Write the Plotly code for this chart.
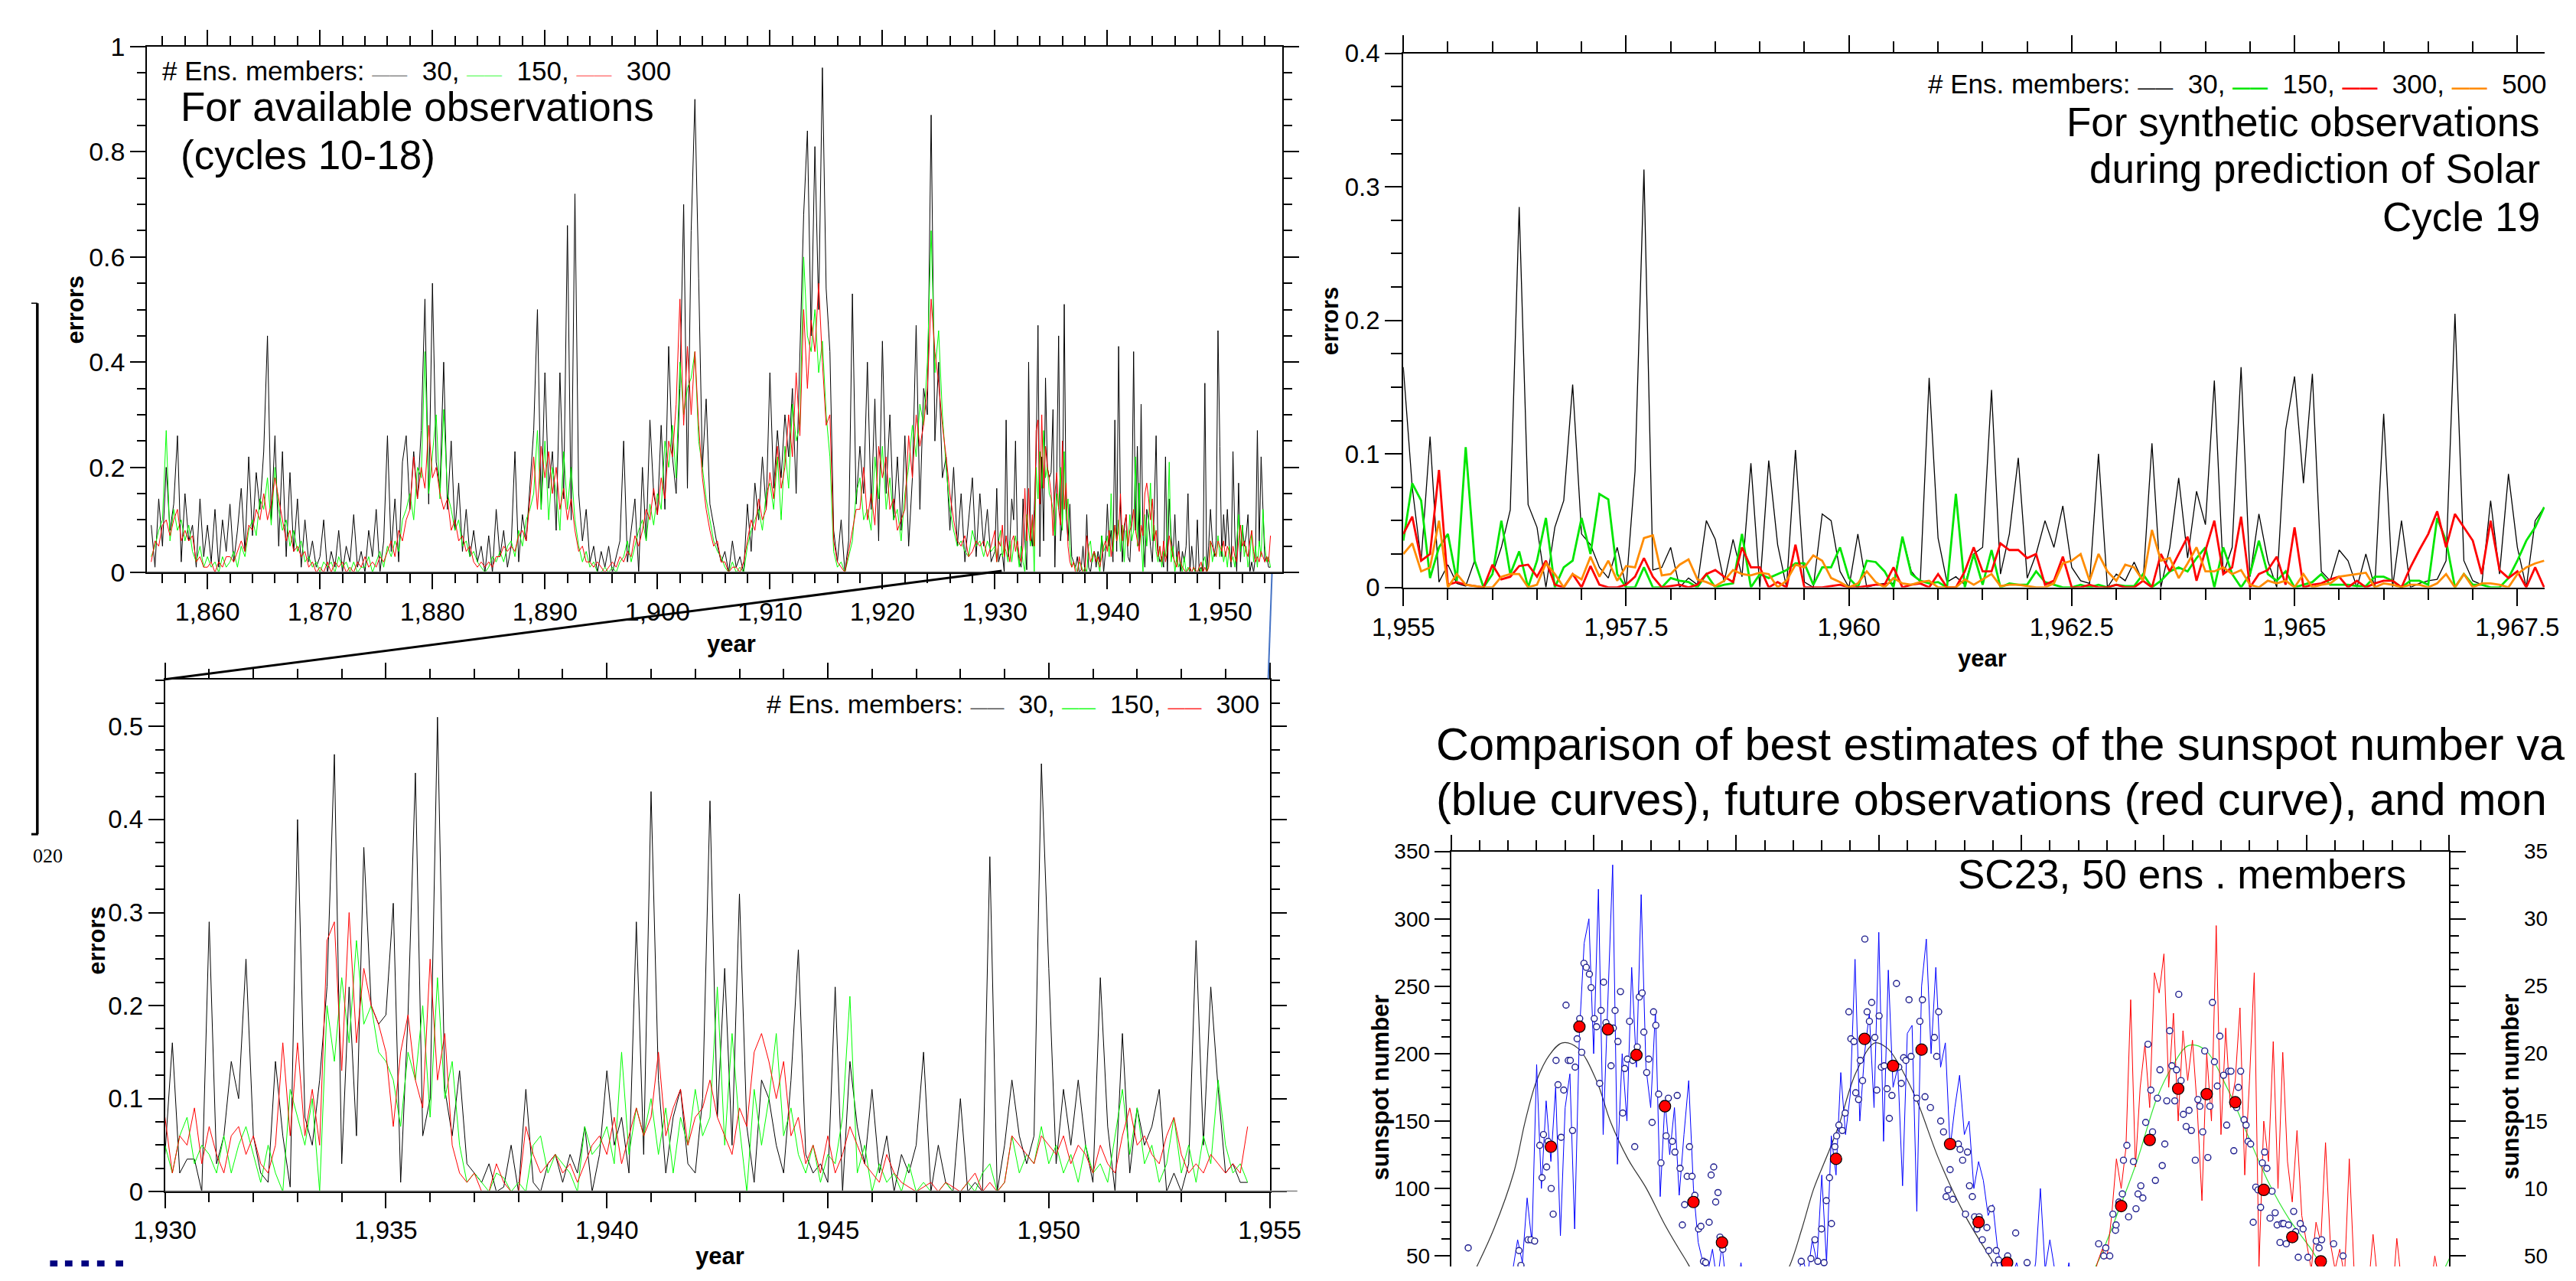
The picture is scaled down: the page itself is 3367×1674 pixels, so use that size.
import plotly.graph_objects as go

W, H = 3367, 1674
FONT = "Liberation Sans, Arial, Helvetica, sans-serif"
NB = "\u00a0"

# ---------------- Panel A (top-left): errors 1855-1929.67, every 1/3 year ----------------
a_start, a_step = 1855.0, 1.0 / 3.0
a_black_early = [
    0.09, 0.01, 0.14, 0.05, 0.20, 0.08, 0.13, 0.26, 0.02, 0.15, 0.06, 0.09,  # 1855-58
    0.01, 0.14, 0.03, 0.09, 0.02, 0.12, 0.01, 0.10, 0.04, 0.13, 0.02, 0.08,  # 1859-62
    0.16, 0.04, 0.22, 0.07, 0.19, 0.12, 0.23, 0.45, 0.10, 0.26, 0.05, 0.23,  # 1863-66
    0.03, 0.19, 0.04, 0.14, 0.01, 0.10, 0.02, 0.06, 0.01, 0.03, 0.10, 0.00,  # 1867-70
    0.04, 0.01, 0.08, 0.00, 0.05, 0.02, 0.11, 0.01, 0.04, 0.00, 0.08, 0.03,  # 1871-74
    0.12, 0.00, 0.06, 0.26, 0.04, 0.14, 0.02, 0.21, 0.26, 0.12, 0.23, 0.14,  # 1875-78
    0.27, 0.52, 0.13, 0.55, 0.21, 0.16, 0.40, 0.12, 0.25, 0.08, 0.17, 0.04,  # 1879-82
    0.12, 0.03, 0.08, 0.02, 0.05, 0.00, 0.07, 0.00, 0.12, 0.03, 0.08, 0.01,  # 1883-86
    0.05, 0.23, 0.02, 0.11, 0.06, 0.17, 0.27, 0.50, 0.12, 0.38, 0.16, 0.23,  # 1887-90
    0.08, 0.38, 0.14, 0.66, 0.10, 0.72, 0.15, 0.06, 0.12, 0.02, 0.05, 0.00,  # 1891-94
    0.04, 0.01, 0.05, 0.00, 0.03, 0.06, 0.25, 0.02, 0.08, 0.14, 0.00, 0.20,  # 1895-98
    0.06, 0.29, 0.15, 0.11, 0.28, 0.12, 0.43, 0.22, 0.15, 0.35, 0.70, 0.16,  # 1899-1902
    0.65, 0.90, 0.56, 0.20, 0.33, 0.13, 0.09, 0.05, 0.02, 0.04, 0.00, 0.06,  # 1903-06
    0.01, 0.03, 0.00, 0.13, 0.04, 0.17, 0.10, 0.22, 0.12, 0.38, 0.16, 0.27,  # 1907-10
    0.18, 0.30, 0.22, 0.35, 0.15, 0.40, 0.68, 0.84, 0.45, 0.81, 0.50, 0.96,  # 1911-14
    0.54, 0.42, 0.08, 0.02, 0.10, 0.00, 0.06, 0.53, 0.13, 0.24, 0.15, 0.40,  # 1915-18
    0.12, 0.33, 0.06, 0.44, 0.15, 0.30, 0.10, 0.22, 0.08, 0.26, 0.05, 0.18,  # 1919-22
    0.47, 0.12, 0.35, 0.30, 0.87, 0.25, 0.40, 0.18, 0.22, 0.08, 0.20, 0.05,  # 1923-26
    0.15, 0.02, 0.10, 0.18, 0.03, 0.15, 0.05, 0.12, 0.02,                    # 1927-29
]
a_green_early = [
    0.03, 0.05, 0.08, 0.10, 0.27, 0.06, 0.12, 0.08, 0.10, 0.06, 0.09, 0.04,
    0.02, 0.05, 0.01, 0.03, 0.01, 0.02, 0.00, 0.03, 0.01, 0.02, 0.04, 0.01,
    0.05, 0.03, 0.08, 0.10, 0.07, 0.14, 0.12, 0.18, 0.09, 0.20, 0.12, 0.08,
    0.10, 0.05, 0.08, 0.04, 0.06, 0.02, 0.03, 0.01, 0.02, 0.00, 0.02, 0.01,
    0.02, 0.00, 0.03, 0.01, 0.02, 0.00, 0.02, 0.00, 0.01, 0.01, 0.03, 0.00,
    0.02, 0.04, 0.01, 0.05, 0.03, 0.06, 0.04, 0.10, 0.12, 0.15, 0.10, 0.20,
    0.18, 0.42, 0.15, 0.22, 0.30, 0.14, 0.31, 0.15, 0.12, 0.08, 0.10, 0.05,
    0.06, 0.03, 0.04, 0.02, 0.01, 0.00, 0.01, 0.03, 0.02, 0.04, 0.02, 0.05,
    0.06, 0.03, 0.08, 0.05, 0.10, 0.12, 0.15, 0.27, 0.12, 0.25, 0.10, 0.20,
    0.15, 0.08, 0.23, 0.12, 0.20, 0.10, 0.05, 0.02, 0.04, 0.01, 0.02, 0.00,
    0.00, 0.01, 0.00, 0.01, 0.00, 0.02, 0.03, 0.06, 0.02, 0.05, 0.08, 0.10,
    0.06, 0.13, 0.09, 0.15, 0.12, 0.25, 0.20, 0.28, 0.18, 0.40, 0.30, 0.35,
    0.37, 0.42, 0.25, 0.20, 0.14, 0.10, 0.06, 0.04, 0.03, 0.01, 0.00, 0.02,
    0.00, 0.01, 0.00, 0.05, 0.08, 0.10, 0.12, 0.08, 0.15, 0.17, 0.12, 0.22,
    0.10, 0.24, 0.16, 0.32, 0.25, 0.28, 0.60, 0.45, 0.42, 0.50, 0.38, 0.44,
    0.30, 0.22, 0.04, 0.01, 0.02, 0.00, 0.03, 0.06, 0.15, 0.18, 0.10, 0.12,
    0.08, 0.22, 0.14, 0.24, 0.12, 0.18, 0.10, 0.12, 0.06, 0.15, 0.20, 0.28,
    0.22, 0.32, 0.28, 0.40, 0.65, 0.38, 0.46, 0.30, 0.20, 0.12, 0.08, 0.05,
    0.06, 0.04, 0.03, 0.08, 0.05, 0.06, 0.03, 0.06, 0.04,
]
a_red_early = [
    0.02, 0.06, 0.05, 0.09, 0.10, 0.07, 0.10, 0.12, 0.06, 0.08, 0.06, 0.07,
    0.02, 0.03, 0.01, 0.01, 0.02, 0.00, 0.02, 0.01, 0.03, 0.03, 0.02, 0.04,
    0.06, 0.04, 0.09, 0.08, 0.12, 0.10, 0.15, 0.10, 0.13, 0.18, 0.14, 0.10,
    0.06, 0.08, 0.04, 0.05, 0.03, 0.04, 0.01, 0.02, 0.00, 0.01, 0.00, 0.02,
    0.00, 0.02, 0.01, 0.02, 0.00, 0.01, 0.00, 0.02, 0.01, 0.03, 0.01, 0.02,
    0.01, 0.03, 0.02, 0.04, 0.06, 0.03, 0.08, 0.06, 0.10, 0.12, 0.22, 0.14,
    0.20, 0.16, 0.28, 0.18, 0.20, 0.15, 0.12, 0.14, 0.08, 0.10, 0.06, 0.07,
    0.04, 0.05, 0.02, 0.01, 0.02, 0.01, 0.02, 0.01, 0.03, 0.03, 0.05, 0.04,
    0.05, 0.04, 0.07, 0.08, 0.06, 0.14, 0.22, 0.12, 0.24, 0.18, 0.23, 0.15,
    0.20, 0.12, 0.16, 0.10, 0.14, 0.08, 0.04, 0.05, 0.02, 0.02, 0.01, 0.02,
    0.01, 0.00, 0.01, 0.02, 0.01, 0.03, 0.02, 0.04, 0.03, 0.07, 0.05, 0.08,
    0.12, 0.10, 0.16, 0.11, 0.18, 0.14, 0.25, 0.22, 0.32, 0.52, 0.28, 0.43,
    0.30, 0.42, 0.28, 0.18, 0.12, 0.08, 0.05, 0.06, 0.02, 0.02, 0.00, 0.01,
    0.01, 0.00, 0.02, 0.06, 0.10, 0.08, 0.14, 0.10, 0.12, 0.19, 0.14, 0.24,
    0.16, 0.20, 0.30, 0.22, 0.38, 0.26, 0.50, 0.35, 0.48, 0.42, 0.55, 0.40,
    0.28, 0.30, 0.06, 0.02, 0.01, 0.00, 0.04, 0.08, 0.12, 0.12, 0.20, 0.10,
    0.15, 0.09, 0.24, 0.18, 0.22, 0.12, 0.14, 0.08, 0.10, 0.12, 0.26, 0.18,
    0.30, 0.24, 0.28, 0.35, 0.52, 0.42, 0.36, 0.28, 0.22, 0.15, 0.10, 0.06,
    0.05, 0.07, 0.03, 0.04, 0.06, 0.05, 0.06, 0.03, 0.05,
]

# ---------------- Panel B (bottom-left): errors 1930-1954.5, every 1/6 year ----------------
b_start, b_step = 1930.0, 1.0 / 6.0
b_black = [
    0.04, 0.16, 0.02, 0.035, 0.035, 0.00,   # 1930
    0.29, 0.03, 0.06, 0.14, 0.10, 0.25,     # 1931
    0.06, 0.02, 0.01, 0.14, 0.06, 0.005,    # 1932
    0.40, 0.08, 0.05, 0.12, 0.22, 0.47,     # 1933
    0.03, 0.22, 0.06, 0.37, 0.20, 0.18,     # 1934
    0.19, 0.31, 0.01, 0.19, 0.45, 0.06,     # 1935
    0.10, 0.51, 0.11, 0.06, 0.13, 0.03,     # 1936
    0.02, 0.01, 0.03, 0.00, 0.005, 0.05,    # 1937
    0.00, 0.11, 0.01, 0.00, 0.03, 0.04,     # 1938
    0.01, 0.04, 0.02, 0.07, 0.00, 0.04,     # 1939
    0.13, 0.05, 0.08, 0.02, 0.29, 0.04,     # 1940
    0.43, 0.12, 0.02, 0.08, 0.11, 0.03,     # 1941
    0.02, 0.10, 0.42, 0.08, 0.24, 0.05,     # 1942
    0.32, 0.07, 0.01, 0.12, 0.10, 0.05,     # 1943
    0.02, 0.12, 0.26, 0.04, 0.02, 0.03,     # 1944
    0.01, 0.22, 0.00, 0.14, 0.07, 0.03,     # 1945
    0.11, 0.02, 0.06, 0.00, 0.04, 0.02,     # 1946
    0.05, 0.15, 0.00, 0.05, 0.01, 0.00,     # 1947
    0.10, 0.00, 0.01, 0.00, 0.36, 0.00,     # 1948
    0.05, 0.12, 0.06, 0.03, 0.06, 0.46,     # 1949
    0.24, 0.03, 0.11, 0.05, 0.12, 0.05,     # 1950
    0.01, 0.23, 0.07, 0.00, 0.17, 0.02,     # 1951
    0.09, 0.05, 0.07, 0.11, 0.00, 0.02,     # 1952
    0.00, 0.03, 0.27, 0.05, 0.22, 0.11,     # 1953
    0.02, 0.03, 0.01, 0.01,                 # 1954
]
b_green = [
    0.05, 0.02, 0.06, 0.08, 0.03, 0.05,
    0.04, 0.02, 0.06, 0.02, 0.05, 0.07,
    0.04, 0.01, 0.05, 0.02, 0.00, 0.11,
    0.08, 0.05, 0.10, 0.00, 0.20, 0.14,
    0.23, 0.16, 0.27, 0.18, 0.20, 0.15,
    0.14, 0.12, 0.07, 0.15, 0.12, 0.20,
    0.08, 0.23, 0.10, 0.14, 0.05, 0.01,
    0.02, 0.01, 0.00, 0.02, 0.015, 0.00,
    0.01, 0.00, 0.05, 0.06, 0.02, 0.04,
    0.03, 0.02, 0.00, 0.07, 0.04, 0.05,
    0.07, 0.03, 0.15, 0.04, 0.09, 0.06,
    0.10, 0.04, 0.09, 0.02, 0.08, 0.05,
    0.11, 0.06, 0.08, 0.22, 0.05, 0.17,
    0.07, 0.00, 0.11, 0.05, 0.10, 0.17,
    0.06, 0.09, 0.04, 0.02, 0.05, 0.01,
    0.04, 0.03, 0.08, 0.21, 0.02, 0.05,
    0.00, 0.03, 0.01, 0.02, 0.00, 0.03,
    0.00, 0.01, 0.00, 0.00, 0.01, 0.00,
    0.00, 0.01, 0.00, 0.02, 0.03, 0.00,
    0.01, 0.06, 0.02, 0.04, 0.03, 0.07,
    0.03, 0.05, 0.02, 0.04, 0.01, 0.05,
    0.02, 0.03, 0.01, 0.06, 0.11, 0.04,
    0.09, 0.03, 0.05, 0.01, 0.03, 0.08,
    0.02, 0.05, 0.01, 0.06, 0.03, 0.12,
    0.05, 0.02, 0.03, 0.01,
]
b_red = [
    0.08, 0.02, 0.06, 0.05, 0.09, 0.03,
    0.07, 0.04, 0.02, 0.06, 0.07, 0.04,
    0.06, 0.03, 0.02, 0.05, 0.16, 0.06,
    0.16, 0.06, 0.11, 0.05, 0.27, 0.29,
    0.13, 0.30, 0.16, 0.24, 0.20, 0.18,
    0.15, 0.07, 0.15, 0.19, 0.12, 0.09,
    0.25, 0.12, 0.17, 0.05, 0.02, 0.01,
    0.02, 0.00, 0.00, 0.03, 0.01, 0.00,
    0.00, 0.07, 0.04, 0.02, 0.03, 0.04,
    0.02, 0.03, 0.01, 0.03, 0.05, 0.06,
    0.04, 0.08, 0.03, 0.06, 0.09, 0.06,
    0.08, 0.15, 0.06, 0.09, 0.11, 0.05,
    0.08, 0.09, 0.12, 0.08, 0.06, 0.04,
    0.09, 0.07, 0.15, 0.17, 0.14, 0.10,
    0.14, 0.06, 0.08, 0.03, 0.05, 0.02,
    0.06, 0.02, 0.04, 0.07, 0.05, 0.03,
    0.02, 0.01, 0.04, 0.02, 0.01, 0.005,
    0.00, 0.005, 0.01, 0.00, 0.01, 0.005,
    0.00, 0.01, 0.02, 0.00, 0.01, 0.00,
    0.01, 0.06, 0.05, 0.04, 0.03, 0.06,
    0.05, 0.04, 0.06, 0.03, 0.05, 0.04,
    0.02, 0.05, 0.03, 0.02, 0.06, 0.09,
    0.05, 0.06, 0.04, 0.03, 0.06, 0.08,
    0.04, 0.02, 0.03, 0.02, 0.04, 0.03,
    0.02, 0.03, 0.02, 0.07,
]

# ---------------- Panel C (top-right): synthetic obs errors 1955-1967.8, every 0.1 year ----------------
c_start, c_step = 1955.0, 0.1
c_black = [
    0.165, 0.075, 0.02, 0.113, 0.004, 0.017, 0.003, 0.001, 0.02, 0.0,
    0.01, 0.03, 0.058, 0.285, 0.062, 0.045, 0.0, 0.045, 0.065, 0.152,
    0.04, 0.032, 0.015, 0.007, 0.03, 0.0, 0.087, 0.313, 0.013, 0.015,
    0.03, 0.0, 0.007, 0.002, 0.05, 0.036, 0.004, 0.036, 0.008, 0.093,
    0.0, 0.095, 0.032, 0.0, 0.103, 0.004, 0.0, 0.055, 0.05, 0.012,
    0.0, 0.04, 0.0, 0.002, 0.003, 0.003, 0.038, 0.012, 0.004, 0.157,
    0.037, 0.004, 0.008, 0.002, 0.025, 0.03, 0.148, 0.01, 0.04, 0.097,
    0.007, 0.025, 0.05, 0.03, 0.061, 0.015, 0.005, 0.003, 0.1, 0.0,
    0.01, 0.005, 0.019, 0.004, 0.108, 0.0, 0.03, 0.082, 0.022, 0.072,
    0.047, 0.155, 0.01, 0.03, 0.165, 0.008, 0.055, 0.02, 0.0, 0.118,
    0.158, 0.078, 0.16, 0.012, 0.005, 0.028, 0.02, 0.0, 0.025, 0.0,
    0.13, 0.0, 0.05, 0.0, 0.003, 0.005, 0.006, 0.02, 0.205, 0.02,
    0.005, 0.002, 0.065, 0.01, 0.085, 0.03, 0.0, 0.05, 0.06,
]
c_green = [
    0.035, 0.078, 0.065, 0.007, 0.03, 0.04, 0.005, 0.105, 0.02, 0.0,
    0.01, 0.05, 0.01, 0.027, 0.0, 0.02, 0.052, 0.0, 0.015, 0.02,
    0.052, 0.025, 0.07, 0.066, 0.01, 0.0, 0.0, 0.015, 0.0, 0.0,
    0.007, 0.005, 0.004, 0.0, 0.01, 0.0, 0.002, 0.003, 0.04, 0.0,
    0.01, 0.007, 0.01, 0.013, 0.018, 0.018, 0.002, 0.015, 0.015, 0.03,
    0.007, 0.0, 0.02, 0.019, 0.012, 0.0, 0.038, 0.01, 0.005, 0.003,
    0.004, 0.0, 0.07, 0.0, 0.025, 0.002, 0.028, 0.0, 0.003, 0.002,
    0.002, 0.012, 0.004, 0.002, 0.0, 0.0, 0.002, 0.0, 0.002, 0.0,
    0.002, 0.001, 0.001, 0.01, 0.0, 0.005, 0.012, 0.015, 0.012, 0.022,
    0.03, 0.0, 0.03, 0.01, 0.0, 0.01, 0.035, 0.01, 0.005, 0.012,
    0.0, 0.002, 0.004, 0.01, 0.002, 0.002, 0.002, 0.001, 0.001, 0.008,
    0.008, 0.005, 0.0, 0.005, 0.005, 0.002, 0.052, 0.035, 0.0, 0.01,
    0.002, 0.002, 0.0, 0.0, 0.007, 0.02, 0.035, 0.045, 0.06,
]
c_red = [
    0.04, 0.053, 0.02, 0.025, 0.088, 0.002, 0.004, 0.002, 0.001, 0.0,
    0.017, 0.006, 0.008, 0.016, 0.017, 0.008, 0.02, 0.002, 0.0, 0.01,
    0.0, 0.016, 0.002, 0.0, 0.0, 0.002, 0.008, 0.022, 0.008, 0.0,
    0.001, 0.002, 0.0, 0.002, 0.01, 0.013, 0.008, 0.004, 0.03, 0.015,
    0.015, 0.0, 0.004, 0.0, 0.032, 0.0, 0.0, 0.0, 0.001, 0.002,
    0.0, 0.0, 0.001, 0.002, 0.002, 0.015, 0.0, 0.002, 0.003, 0.0,
    0.01, 0.0, 0.0, 0.012, 0.03, 0.012, 0.012, 0.033, 0.028, 0.028,
    0.022, 0.025, 0.002, 0.005, 0.023, 0.0, 0.0, 0.002, 0.0, 0.0,
    0.002, 0.0, 0.0, 0.005, 0.0, 0.025, 0.012, 0.025, 0.038, 0.005,
    0.028, 0.05, 0.01, 0.015, 0.053, 0.0, 0.01, 0.013, 0.023, 0.002,
    0.045, 0.0, 0.002, 0.003, 0.006, 0.008, 0.0, 0.005, 0.0, 0.003,
    0.005, 0.005, 0.0, 0.015, 0.028, 0.04, 0.057, 0.03, 0.055, 0.045,
    0.035, 0.01, 0.05, 0.013, 0.007, 0.012, 0.0, 0.015, 0.0,
]
c_orange = [
    0.025, 0.033, 0.012, 0.015, 0.05, 0.0, 0.01, 0.002, 0.001, 0.0,
    0.0, 0.008, 0.01, 0.01, 0.0, 0.002, 0.018, 0.01, 0.0, 0.01,
    0.006, 0.023, 0.008, 0.02, 0.005, 0.016, 0.015, 0.037, 0.039, 0.009,
    0.01, 0.017, 0.021, 0.006, 0.004, 0.001, 0.005, 0.013, 0.01, 0.009,
    0.011, 0.01, 0.0, 0.005, 0.017, 0.015, 0.024, 0.02, 0.007, 0.004,
    0.0, 0.003, 0.012, 0.004, 0.0, 0.007, 0.003, 0.002, 0.004, 0.005,
    0.0, 0.0, 0.0, 0.006, 0.002, 0.006, 0.01, 0.001, 0.002, 0.002,
    0.001, 0.0, 0.0, 0.003, 0.018, 0.02, 0.025, 0.005, 0.025, 0.012,
    0.005, 0.017, 0.015, 0.005, 0.043, 0.02, 0.022, 0.007, 0.018, 0.03,
    0.012, 0.012, 0.015, 0.01, 0.013, 0.002, 0.0, 0.005, 0.003, 0.005,
    0.0, 0.01, 0.0, 0.002, 0.003, 0.008, 0.009, 0.01, 0.011, 0.0,
    0.003, 0.002, 0.0, 0.002, 0.002, 0.0, 0.003, 0.01, 0.0, 0.01,
    0.0, 0.003, 0.003, 0.002, 0.0, 0.01, 0.015, 0.018, 0.02,
]

# ---------------- Panel D (bottom-right): sunspot numbers ----------------
d_blue_start, d_step = 1976.0, 1.0 / 6.0
d_blue = [
    18, 25, 15, 30, 22, 35,  28, 40, 62, 45, 93, 60,
    192, 100, 165, 120, 175, 65,  160, 185, 70, 215, 282, 300,
    200, 322, 140, 240, 340, 118,  200, 150, 264, 190, 318, 190,
    160, 232, 94, 165, 125, 160,  95, 140, 180, 100, 60, 45,
    38, 55, 30, 58, 25, 32,  20, 45, 15, 20, 10, 15,
    12, 20, 18, 25, 30, 28,  30, 38, 48, 35, 62, 45,
    110, 45, 139, 110, 186, 140,  170, 270, 150, 200, 230, 160,
    290, 135, 262, 175, 190, 102,  215, 221, 83, 250, 285, 200,
    264, 190, 208, 130, 160, 184,  140, 150, 100, 120, 106, 80,
    88, 55, 40, 48, 35, 45,  30, 38, 25, 45, 100, 40,
    62, 40, 30, 25, 45, 20,
]
d_red_start = 1997.0
d_red = [
    20, 28, 35, 30, 45, 55,  48, 80, 122, 100, 130, 240,
    116, 175, 207, 160, 260, 245,  274, 175, 230, 150, 217, 180,
    210, 160, 91, 200, 150, 295,  140, 219, 160, 180, 234, 110,
    180, 260, 42, 150, 120, 209,  100, 201, 120, 90, 143, 80,
    60, 40, 75, 60, 134, 60,  40, 55, 35, 122, 40, 30,
    38, 25, 66, 30, 20, 28,  15, 63, 30, 12, 20, 15,
    10, 18, 22, 50, 30, 20,
]
obs_t = [
    1975.6, 1977.38, 1977.45, 1977.7, 1977.8, 1977.93, 1978.11, 1978.19, 1978.24, 1978.35,
    1978.4, 1978.51, 1978.58, 1978.68, 1978.75, 1978.86, 1978.95, 1979.03, 1979.11, 1979.18,
    1979.26, 1979.35, 1979.42, 1979.51, 1979.58, 1979.66, 1979.74, 1979.85, 1979.91, 1980.02,
    1980.1, 1980.21, 1980.26, 1980.35, 1980.43, 1980.51, 1980.61, 1980.69, 1980.75, 1980.85,
    1980.94, 1981.02, 1981.09, 1981.18, 1981.26, 1981.37, 1981.44, 1981.53, 1981.6, 1981.7,
    1981.76, 1981.86, 1981.93, 1982.05, 1982.1, 1982.18, 1982.28, 1982.36, 1982.46, 1982.54,
    1982.62, 1982.76, 1982.85, 1982.93, 1983.03, 1983.11, 1983.19, 1983.28, 1983.36, 1983.45,
    1983.55, 1983.68, 1983.76, 1983.85, 1983.93, 1984.05, 1984.12, 1984.21, 1984.28, 1984.36,
    1984.43, 1984.53, 1985.0, 1985.5, 1986.0, 1986.5,
    1987.28, 1987.62, 1987.76, 1987.86, 1987.99, 1988.08, 1988.16, 1988.27, 1988.34, 1988.46,
    1988.52, 1988.6, 1988.72, 1988.82, 1988.95, 1989.02, 1989.13, 1989.19, 1989.29, 1989.35,
    1989.43, 1989.51, 1989.59, 1989.67, 1989.75, 1989.86, 1989.93, 1990.01, 1990.09, 1990.19,
    1990.29, 1990.37, 1990.46, 1990.62, 1990.7, 1990.79, 1990.87, 1990.95, 1991.06, 1991.13,
    1991.33, 1991.44, 1991.53, 1991.62, 1991.81, 1991.95, 1992.03, 1992.1, 1992.17, 1992.27,
    1992.36, 1992.43, 1992.5, 1992.6, 1992.79, 1992.85, 1992.94, 1993.04, 1993.11, 1993.18,
    1993.28, 1993.36, 1993.44, 1993.52, 1993.63, 1993.79, 1993.86, 1993.95, 1994.05, 1994.12,
    1994.2, 1994.52, 1994.8, 1995.2,
    1997.71, 1997.89, 1997.96, 1998.1, 1998.21, 1998.3, 1998.32, 1998.42, 1998.54, 1998.58,
    1998.7, 1998.76, 1998.93, 1999.02, 1999.09, 1999.19, 1999.26, 1999.36, 1999.44, 1999.54,
    1999.6, 1999.7, 1999.77, 1999.86, 1999.94, 2000.03, 2000.1, 2000.2, 2000.28, 2000.38,
    2000.44, 2000.52, 2000.6, 2000.68, 2000.78, 2000.88, 2000.96, 2001.1, 2001.19, 2001.26,
    2001.36, 2001.43, 2001.54, 2001.61, 2001.7, 2001.77, 2001.87, 2001.96, 2002.09, 2002.2,
    2002.27, 2002.35, 2002.45, 2002.55, 2002.61, 2002.69, 2002.81, 2002.88, 2002.95, 2003.04,
    2003.13, 2003.22, 2003.3, 2003.39, 2003.45, 2003.53, 2003.61, 2003.72, 2003.79, 2003.9,
    2003.97, 2004.07, 2004.14, 2004.2, 2004.29, 2004.37, 2004.43, 2004.55, 2004.62, 2004.71,
    2004.78, 2004.88, 2005.05, 2005.34, 2005.44, 2005.53, 2005.95, 2006.28,
]
obs_v = [
    56, 54, 43, 62, 62, 61, 132, 108, 140, 116,
    135, 100, 81, 195, 177, 138, 173, 236, 195, 195,
    143, 190, 211, 226, 201, 267, 264, 259, 249, 226,
    220, 178, 232, 253, 223, 217, 191, 219, 232, 209,
    246, 156, 189, 196, 224, 195, 131, 205, 242, 245,
    216, 186, 196, 149, 231, 221, 170, 119, 163, 139,
    167, 135, 127, 169, 115, 73, 88, 109, 131, 109,
    95, 70, 72, 46, 45, 75, 110, 116, 90, 97,
    64, 55, 30, 20, 15, 22,
    46, 48, 62, 46, 70, 45, 91, 108, 74, 131,
    139, 147, 143, 156, 231, 211, 209, 171, 166, 195,
    180, 285, 231, 224, 238, 212, 173, 228, 190, 191,
    174, 152, 169, 252, 190, 178, 197, 195, 240, 198,
    167, 224, 240, 168, 160, 212, 198, 231, 150, 142,
    94, 99, 114, 92, 133, 129, 121, 81, 127, 102,
    94, 79, 70, 79, 62, 71, 54, 85, 43, 54,
    47, 50, 67, 45,
    59, 50, 56, 50, 81, 69, 73, 90, 96, 121,
    132, 79, 120, 85, 96, 102, 93, 149, 207, 173,
    142, 106, 167, 188, 117, 133, 165, 217, 191, 165,
    188, 244, 180, 155, 146, 158, 143, 121, 166, 161,
    142, 202, 123, 161, 238, 194, 176, 213, 184, 147,
    187, 187, 128, 160, 175, 187, 151, 147, 135, 133,
    75, 101, 99, 86, 119, 127, 115, 78, 98, 82,
    73, 60, 74, 74, 59, 73, 64, 83, 68, 49,
    74, 70, 49, 61, 56, 62, 59, 50,
]
annual_t = [1976.5, 1977.5, 1978.5, 1979.5, 1980.5, 1981.5, 1982.5, 1983.5, 1984.5, 1985.5,
            1986.5, 1987.5, 1988.5, 1989.5, 1990.5, 1991.5, 1992.5, 1993.5, 1994.5, 1995.5,
            1996.5, 1997.5, 1998.5, 1999.5, 2000.5, 2001.5, 2002.5, 2003.5, 2004.5, 2005.5,
            2006.5, 2007.5, 2008.5]
annual_v = [13, 28, 131, 220, 218, 199, 161, 90, 60, 25,
            19, 34, 122, 211, 191, 203, 133, 75, 45, 25,
            12, 30, 87, 136, 174, 170, 164, 99, 64, 46,
            25, 12, 4]
fit_t = [1975.5, 1975.9, 1976.5, 1977.2, 1977.6, 1978.0, 1978.45, 1978.9, 1979.45, 1980.1,
         1980.6, 1981.2, 1981.85, 1982.5, 1983.2, 1983.6, 1984.5, 1985.5, 1986.4, 1986.86,
         1987.3, 1987.72, 1988.2, 1988.6, 1989.2, 1989.86, 1990.3, 1990.65, 1991.3, 1992.1,
         1993.0, 1993.9, 1994.3]
fit_v = [25, 42, 70, 112, 150, 180, 199, 208, 204, 180,
         149, 122, 100, 73, 48, 35, 20, 15, 25, 42,
         70, 100, 125, 147, 186, 208, 204, 194, 167, 122,
         81, 49, 35]
pred_t = [1997.2, 1997.6, 1998.47, 1999.05, 1999.77, 2000.28, 2000.86, 2001.43, 2002.23, 2002.95,
          2003.68, 2004.4, 2005.13, 2005.56, 2006.0, 2007.0, 2008.0, 2009.0, 2009.6, 2010.05]
pred_v = [30, 42, 87, 120, 168, 190, 206, 203, 174, 139,
          104, 77, 56, 42, 32, 20, 15, 18, 32, 50]
# tick labels of the neighbouring (cropped) panel at the right edge
right_panel_vals = [350, 300, 250, 200, 150, 100, 50]
right_panel_text = ["350", "300", "250", "200", "150", "100", "50"]

# ---------------- helpers ----------------
def px(x):
    return x / W


def py(y):
    return 1 - y / H


def times(start, step, n):
    return [start + step * i for i in range(n)]


a_x = times(a_start, a_step, len(a_black_early)) + times(b_start, b_step, len(b_black))
b_x = times(b_start, b_step, len(b_black))
c_x = times(c_start, c_step, len(c_black))

fig = go.Figure()


def line(x, y, color, width, xa, ya, shape="linear"):
    fig.add_trace(go.Scatter(x=x, y=y, mode="lines", xaxis=xa, yaxis=ya,
                             line=dict(color=color, width=width, shape=shape),
                             showlegend=False, hoverinfo="skip"))


# Panel A
line(a_x, a_black_early + b_black, "#000000", 1, "x", "y")
line(a_x, a_green_early + b_green, "#00ff00", 1, "x", "y")
line(a_x, a_red_early + b_red, "#ff0000", 1, "x", "y")
# Panel B
line(b_x, b_black, "#000000", 1, "x2", "y2")
line(b_x, b_green, "#00ff00", 1, "x2", "y2")
line(b_x, b_red, "#ff0000", 1, "x2", "y2")
# Panel C
line(c_x, c_black, "#000000", 1.3, "x3", "y3")
line(c_x, c_green, "#00e600", 2.8, "x3", "y3")
line(c_x, c_red, "#ff0000", 2.8, "x3", "y3")
line(c_x, c_orange, "#ff8c00", 2.8, "x3", "y3")
# Panel D
line(fit_t, fit_v, "#333333", 1.2, "x4", "y4", "spline")
line(pred_t, pred_v, "#33e633", 1.2, "x4", "y4", "spline")
line(times(d_blue_start, d_step, len(d_blue)), d_blue, "#0000ff", 1, "x4", "y4")
line(times(d_red_start, d_step, len(d_red)), d_red, "#ff0000", 1, "x4", "y4")
fig.add_trace(go.Scatter(x=obs_t, y=obs_v, mode="markers", xaxis="x4", yaxis="y4",
                         marker=dict(symbol="circle", size=8, color="white",
                                     line=dict(color="#1f1f8f", width=1.4)),
                         showlegend=False, hoverinfo="skip"))
fig.add_trace(go.Scatter(x=annual_t, y=annual_v, mode="markers", xaxis="x4", yaxis="y4",
                         marker=dict(symbol="circle", size=15, color="#ff0000",
                                     line=dict(color="#000000", width=1.2)),
                         showlegend=False, hoverinfo="skip"))


def ax(size, **kw):
    d = dict(showline=True, linecolor="black", linewidth=2, ticks="outside",
             tickcolor="black", tickwidth=2, showgrid=False, zeroline=False,
             tickfont=dict(family=FONT, size=size, color="black"))
    d.update(kw)
    return d


def minor(dt, ln):
    return dict(dtick=dt, ticklen=ln, ticks="outside", tickcolor="black", tickwidth=1.5)


fig.update_layout(
    width=W, height=H, margin=dict(l=0, r=0, t=0, b=0, pad=0), autosize=False,
    paper_bgcolor="white", plot_bgcolor="white", showlegend=False,
    xaxis=ax(34, domain=[px(155), px(1676)], range=[1854.63, 1955.56], anchor="y",
             tick0=1860, dtick=10, tickformat=",d", ticklen=20, mirror="ticks",
             minor=minor(2, 12)),
    yaxis=ax(34, domain=[py(746), py(43)], range=[0, 1], anchor="x",
             tick0=0, dtick=0.2, ticklen=20, mirror="ticks", minor=minor(0.05, 11)),
    xaxis2=ax(33, domain=[px(179), px(1659)], range=[1930, 1955], anchor="y2",
              tick0=1930, dtick=5, tickformat=",d", ticklen=20, mirror="ticks",
              minor=minor(1, 12)),
    yaxis2=ax(33, domain=[py(1574), py(889)], range=[0, 0.5506], anchor="x2",
              tick0=0, dtick=0.1, ticklen=20, mirror="ticks", minor=minor(0.025, 11)),
    xaxis3=ax(33, domain=[px(1838), 1.0], range=[1955, 1967.806], anchor="y3",
              tick0=1955, dtick=2.5, tickformat=",~f", ticklen=22, mirror="ticks",
              minor=minor(0.5, 14)),
    yaxis3=ax(33, domain=[py(766), py(52)], range=[0, 0.4], anchor="x3",
              tick0=0, dtick=0.1, ticklen=22, mirror=False, minor=minor(0.025, 14)),
    xaxis4=ax(28, domain=[px(1902), px(3239)], range=[1975, 2010], anchor="y4",
              side="top", showticklabels=False, tick0=1975, dtick=5, ticklen=20,
              mirror=False, minor=minor(1, 13)),
    yaxis4=ax(28, domain=[0, py(1119)], range=[42.2, 350], anchor="x4",
              tick0=0, dtick=50, ticklen=20, mirror="ticks", minor=minor(12.5, 11)),
)

shapes = [
    # gray zero lines
    dict(type="line", xref="x domain", yref="y", x0=0, x1=1.0, y0=0, y1=0,
         line=dict(color="#7f7f7f", width=2.5)),
    dict(type="line", xref="x2 domain", yref="y2", x0=0, x1=1.025, y0=0, y1=0,
         line=dict(color="#7f7f7f", width=3)),
    # zoom connector lines
    dict(type="line", xref="paper", yref="paper", x0=px(179), y0=py(889), x1=px(1300), y1=py(744),
         line=dict(color="black", width=3)),
    dict(type="line", xref="paper", yref="paper", x0=px(1662), y0=py(748), x1=px(1657), y1=py(888),
         line=dict(color="#4472c4", width=2)),
    # fragment of a neighbouring chart frame at the far left edge
    dict(type="line", xref="paper", yref="paper", x0=0, x1=px(8), y0=py(386), y1=py(386),
         line=dict(color="black", width=1.5)),
    dict(type="line", xref="paper", yref="paper", x0=px(8), x1=px(8), y0=py(386), y1=py(1096),
         line=dict(color="black", width=3.5)),
    dict(type="line", xref="paper", yref="paper", x0=0, x1=px(9), y0=py(1096), y1=py(1096),
         line=dict(color="black", width=3)),
]
# logo fragments at the bottom-left corner
for x0, x1 in [(25, 35), (45, 55), (67, 77), (88, 98), (113, 123)]:
    shapes.append(dict(type="rect", xref="paper", yref="paper", x0=px(x0), x1=px(x1),
                       y0=0, y1=py(1666), line=dict(width=0), fillcolor="#000080"))
fig.update_layout(shapes=shapes)


def ann(text, x, y, size, xanchor="left", yanchor="middle", angle=0, family=FONT,
        xref="paper", yref="paper", color="black"):
    return dict(text=text, x=x, y=y, xref=xref, yref=yref, xanchor=xanchor, yanchor=yanchor,
                showarrow=False, textangle=angle, borderpad=0,
                font=dict(family=family, size=size, color=color))


def dash(color, size, bold=False):
    d = "\u2014\u2014"
    if bold:
        d = "<b>" + d + "</b>"
    return f"<span style='color:{color};font-size:{size}px'>{d}</span>"


def legend(colors, labels, dsize, bold=False):
    s = "# Ens. members:"
    for i, (c, lab) in enumerate(zip(colors, labels)):
        s += NB + dash(c, dsize, bold and i > 0) + NB * 2 + lab
    return s


leg_a = legend(["#8c8c8c", "#7cfc7c", "#ff8080"], ["30,", "150,", "300"], 23)
leg_b = legend(["#555555", "#22ff22", "#ff3030"], ["30,", "150,", "300"], 22)
leg_c = legend(["#000000", "#00e600", "#ff0000", "#ff8c00"], ["30,", "150,", "300,", "500"], 23, True)

annotations = [
    ann(leg_a, px(174), py(75), 35),
    ann("For available observations", px(199), py(123), 53),
    ann("(cycles 10-18)", px(199), py(188), 53),
    ann(leg_b, px(1646), py(922), 34, xanchor="right"),
    ann(leg_c, px(2540), py(93), 35),
    ann("For synthetic observations", px(3362), py(144), 53, xanchor="right"),
    ann("during prediction of Solar", px(3362), py(206), 53, xanchor="right"),
    ann("Cycle 19", px(3362), py(271), 53, xanchor="right"),
    ann("Comparison of best estimates of the sunspot number va", px(1881), py(976), 59.5),
    ann("(blue curves), future observations (red curve), and mon", px(1881), py(1049), 59.5),
    ann("SC23, 50 ens . members", px(2881), py(1150), 53, xanchor="center"),
    # axis titles
    ann("<b>errors</b>", px(58), py(395), 31, xanchor="center", angle=-90),
    ann("<b>errors</b>", px(88), py(1238), 31, xanchor="center", angle=-90),
    ann("<b>errors</b>", px(1740), py(410), 31, xanchor="center", angle=-90),
    ann("<b>sunspot number</b>", px(1807), py(1434), 31, xanchor="center", angle=-90),
    ann("<b>sunspot number</b>", px(3321), py(1434), 31, xanchor="center", angle=-90),
    ann("<b>year</b>", px(938), py(842), 31, xanchor="center"),
    ann("<b>year</b>", px(922), py(1660), 31, xanchor="center"),
    ann("<b>year</b>", px(2614), py(861), 31, xanchor="center"),
    ann("020", px(1), py(1125), 26, family="Liberation Serif, Times New Roman, serif"),
]
# neighbouring panel's tick labels, cropped by the right edge of the figure
for v, t in zip(right_panel_vals, right_panel_text):
    annotations.append(ann(t[:2], px(3338), v, 28, yref="y4"))
fig.update_layout(annotations=annotations)

fig.write_html("out.html")
